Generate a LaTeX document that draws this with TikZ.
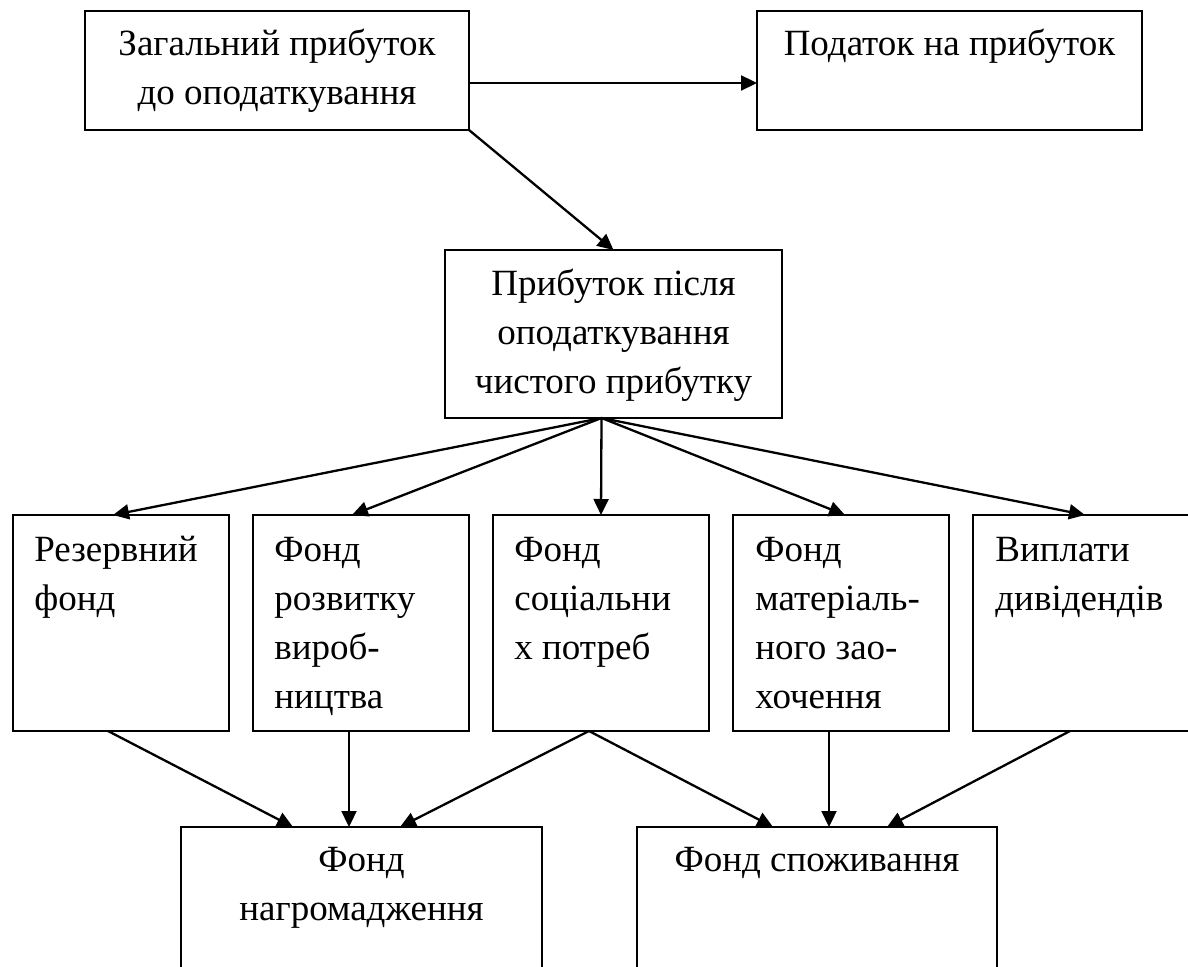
\documentclass[tikz,border=0pt]{standalone}
\usepackage{fontspec}
\setmainfont{Liberation Serif}
\usetikzlibrary{arrows.meta,calc,fit}
\newcommand\dgfont{\fontsize{18.5pt}{24.5pt}\selectfont}
\newcommand\dgstrut{\rule{0pt}{20pt}}
\begin{document}
\begin{tikzpicture}[x=0.5pt,y=-0.5pt,
  box/.style={draw, line width=1pt, inner sep=0pt, outer sep=0pt},
  arr/.style={line width=1.15pt, -{Triangle[length=8pt,width=7.5pt]}},
  ctext/.style={inner sep=0pt, anchor=north, align=center, font=\dgfont},
  ltext/.style={inner sep=0pt, anchor=north west, align=left, font=\dgfont}]
\useasboundingbox (0,0) rectangle (1188,967);
\clip (0,0) rectangle (1188,967);
% boxes
\node[box, fit={(85,11) (469,130)}] (b1) {};
\node[box, fit={(757,11) (1142,130)}] (b2) {};
\node[box, fit={(445,250) (782,418)}] (b3) {};
\node[box, fit={(13,515) (229,731)}] (fa) {};
\node[box, fit={(253,515) (469,731)}] (fb) {};
\node[box, fit={(493,515) (709,731)}] (fc) {};
\node[box, fit={(733,515) (949,731)}] (fd) {};
\node[box, fit={(973,515) (1189,731)}] (fe) {};
\node[box, fit={(181,827) (542,1000)}] (nag) {};
\node[box, fit={(637,827) (997,1000)}] (spo) {};
% texts
\node[ctext] (t1) at (277,15) {\dgstrut Загальний прибуток\\до оподаткування};
\node[ctext] (t2) at (949.5,15) {\dgstrut Податок на прибуток};
\node[ctext] (t3) at (613.5,255) {\dgstrut Прибуток після\\оподаткування\\чистого прибутку};
\node[ltext] (ta) at (34,521) {\dgstrut Резервний\\фонд};
\node[ltext] (tb) at (274,521) {\dgstrut Фонд\\розвитку\\вироб-\\ництва};
\node[ltext] (tc) at (514,521) {\dgstrut Фонд\\соціальни\\х потреб};
\node[ltext] (td) at (755,521) {\dgstrut Фонд\\матеріаль-\\ного зао-\\хочення};
\node[ltext] (te) at (995,521) {\dgstrut Виплати\\дивідендів};
\node[ctext] (tn) at (361.5,831) {\dgstrut Фонд\\нагромадження};
\node[ctext] (ts) at (817,831) {\dgstrut Фонд споживання};
% connectors
\draw[arr] ([yshift=-6.25pt]b1.east) -- ([yshift=-6.25pt]b2.west);
\draw[arr] (b1.south east) -- (b3.north);
\coordinate (o) at ($(b3.south)+(-12,0)$);
\draw[arr] (o) -- ($(fa.north)+(-8,0)$);
\draw[arr] (o) -- ($(fb.north)+(-9,0)$);
\draw[arr] (o) -- ($(fc.north)+(0,0)$);
\draw[arr] (o) -- ($(fd.north)+(4,0)$);
\draw[arr] (o) -- ($(fe.north)+(4,0)$);
\draw[arr] ($(fa.south)+(-13,0)$) -- ($(nag.north west)+(112,0)$);
\draw[arr] ($(fb.south)+(-12,0)$) -- ($(nag.north west)+(168,0)$);
\draw[arr] ($(fc.south)+(-12,0)$) -- ($(nag.north west)+(219,0)$);
\draw[arr] ($(fc.south)+(-12,0)$) -- ($(spo.north west)+(136,0)$);
\draw[arr] ($(fd.south)+(-12,0)$) -- ($(spo.north west)+(192,0)$);
\draw[arr] ($(fe.south)+(-11,0)$) -- ($(spo.north west)+(250,0)$);
\end{tikzpicture}
\end{document}
